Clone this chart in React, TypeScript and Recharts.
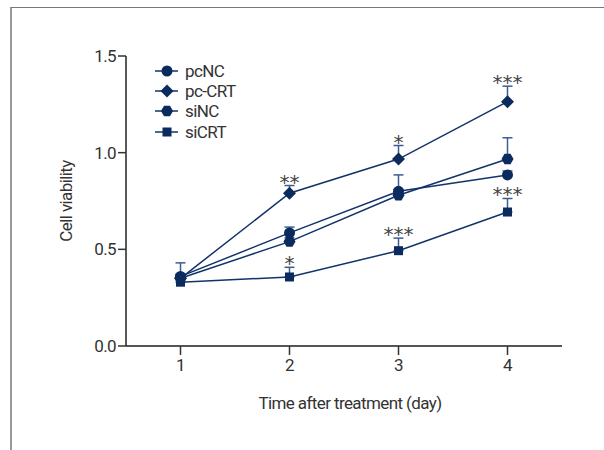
import { useEffect } from 'react'
import { LineChart, Line, XAxis, YAxis, ErrorBar, LabelList } from 'recharts'

const days = [1, 2, 3, 4]
const yTicks = [0, 0.5, 1.0, 1.5]

const pcNC = [0.36, 0.585, 0.8, 0.885]
const pcNCErr = [0.07, 0.03, 0.085, 0.02]
const pcCRT = [0.35, 0.79, 0.967, 1.264]
const pcCRTErr = [0.02, 0.04, 0.07, 0.08]
const siNC = [0.35, 0.54, 0.78, 0.967]
const siNCErr = [0.02, 0.02, 0.03, 0.11]
const siCRT = [0.33, 0.357, 0.493, 0.693]
const siCRTErr = [0.01, 0.05, 0.065, 0.07]

const pcCRTStars = ['', '**', '*', '***']
const siCRTStars = ['', '*', '***', '***']

const seriesNames = ['pcNC', 'pc-CRT', 'siNC', 'siCRT']

const data = days.map((d, i) => ({
  day: d,
  pcNC: pcNC[i],
  pcNCErr: [0, pcNCErr[i]],
  pcCRT: pcCRT[i],
  pcCRTErr: [0, pcCRTErr[i]],
  siNC: siNC[i],
  siNCErr: [0, siNCErr[i]],
  siCRT: siCRT[i],
  siCRTErr: [0, siCRTErr[i]],
  pcCRTTop: pcCRT[i] + pcCRTErr[i],
  pcCRTStar: pcCRTStars[i],
  siCRTTop: siCRT[i] + siCRTErr[i],
  siCRTStar: siCRTStars[i],
}))

const FONT = 'Roboto, "Liberation Sans", sans-serif'
const LINE = '#12336a'
const MARK = '#0b2b5e'
const ERR = '#3d5d90'
const TEXT = '#333'
const SPACING = -0.6

function Marker({ kind, cx, cy }: { kind: number; cx: number; cy: number }) {
  if (cx == null || cy == null) return null
  if (kind === 0) return <circle cx={cx} cy={cy} r={5.5} fill={MARK} />
  if (kind === 1) {
    const r = 6.5
    return <polygon points={`${cx},${cy - r} ${cx + r},${cy} ${cx},${cy + r} ${cx - r},${cy}`} fill={MARK} />
  }
  if (kind === 2) {
    const r = 6
    const pts = [0, 1, 2, 3, 4, 5]
      .map((k) => {
        const a = (Math.PI / 3) * k
        return `${cx + r * Math.cos(a)},${cy + r * Math.sin(a)}`
      })
      .join(' ')
    return <polygon points={pts} fill={MARK} />
  }
  return <rect x={cx - 4.5} y={cy - 4.5} width={9} height={9} fill={MARK} />
}

const dotFor = (kind: number) => (p: any) => <Marker key={`m-${kind}-${p.index}`} kind={kind} cx={p.cx} cy={p.cy} />

const StarLabel = (p: any) => {
  if (!p.value) return null
  return (
    <text x={p.x} y={p.y + 3} textAnchor="middle" fontSize={20} fill="#444" fontFamily="DejaVu Sans">
      {p.value}
    </text>
  )
}

function Legend() {
  const rows = [71, 91, 111, 132]
  return (
    <svg width={120} height={90} style={{ position: 'absolute', left: 150, top: 58 }}>
      {seriesNames.map((n, i) => {
        const y = rows[i] - 58
        return (
          <g key={n}>
            <line x1={5} x2={28} y1={y} y2={y} stroke={LINE} strokeWidth={1.5} />
            <Marker kind={i} cx={17} cy={y} />
            <text x={35} y={y + 6} fontSize={17} fill={TEXT} fontFamily={FONT} letterSpacing={SPACING}>
              {n}
            </text>
          </g>
        )
      })}
    </svg>
  )
}

export default function App() {
  useEffect(() => {
    document.body.style.margin = '0'
  }, [])

  const tickStyle = { fontSize: 17, fill: TEXT, fontFamily: FONT, letterSpacing: SPACING }

  return (
    <div style={{ position: 'relative', width: 604, height: 450, background: '#fff', overflow: 'hidden' }}>
      <div
        style={{
          position: 'absolute',
          left: 10,
          top: 7,
          width: 600,
          height: 450,
          borderTop: '1px solid #777',
          borderLeft: '2px solid #999',
        }}
      />
      <LineChart width={604} height={450} data={data} margin={{ top: 56, right: 42, bottom: 44, left: 0 }}>
        <XAxis
          dataKey="day"
          type="number"
          domain={[0.5, 4.5]}
          ticks={days}
          tickSize={9}
          tickMargin={4}
          tick={tickStyle}
          axisLine={{ stroke: '#555', strokeWidth: 2 }}
          tickLine={{ stroke: '#333', strokeWidth: 1.5 }}
          height={60}
          label={{
            content: () => (
              <text x={350} y={409} textAnchor="middle" fontSize={17} fill={TEXT} fontFamily={FONT} letterSpacing={SPACING}>
                Time after treatment (day)
              </text>
            ),
          }}
        />
        <YAxis
          type="number"
          domain={[0, 1.5]}
          ticks={yTicks}
          tickFormatter={(v: number) => v.toFixed(1)}
          width={126}
          tickSize={8}
          tickMargin={2}
          tick={tickStyle}
          axisLine={{ stroke: '#222', strokeWidth: 1.5 }}
          tickLine={{ stroke: '#333', strokeWidth: 1.5 }}
          label={{
            content: () => (
              <text
                x={72}
                y={201}
                transform="rotate(-90, 72, 201)"
                textAnchor="middle"
                fontSize={17}
                fill={TEXT}
                fontFamily={FONT}
                letterSpacing={SPACING}
              >
                Cell viability
              </text>
            ),
          }}
        />
        <Line dataKey="siCRT" stroke={LINE} strokeWidth={1.5} dot={dotFor(3)} activeDot={false} isAnimationActive={false}>
          <ErrorBar dataKey="siCRTErr" width={5} stroke={ERR} strokeWidth={1.5} direction="y" />
        </Line>
        <Line dataKey="siNC" stroke={LINE} strokeWidth={1.5} dot={dotFor(2)} activeDot={false} isAnimationActive={false}>
          <ErrorBar dataKey="siNCErr" width={5} stroke={ERR} strokeWidth={1.5} direction="y" />
        </Line>
        <Line dataKey="pcNC" stroke={LINE} strokeWidth={1.5} dot={dotFor(0)} activeDot={false} isAnimationActive={false}>
          <ErrorBar dataKey="pcNCErr" width={5} stroke={ERR} strokeWidth={1.5} direction="y" />
        </Line>
        <Line dataKey="pcCRT" stroke={LINE} strokeWidth={1.5} dot={dotFor(1)} activeDot={false} isAnimationActive={false}>
          <ErrorBar dataKey="pcCRTErr" width={5} stroke={ERR} strokeWidth={1.5} direction="y" />
        </Line>
        <Line dataKey="pcCRTTop" stroke="none" dot={false} activeDot={false} isAnimationActive={false}>
          <LabelList dataKey="pcCRTStar" content={StarLabel} />
        </Line>
        <Line dataKey="siCRTTop" stroke="none" dot={false} activeDot={false} isAnimationActive={false}>
          <LabelList dataKey="siCRTStar" content={StarLabel} />
        </Line>
      </LineChart>
      <Legend />
    </div>
  )
}
